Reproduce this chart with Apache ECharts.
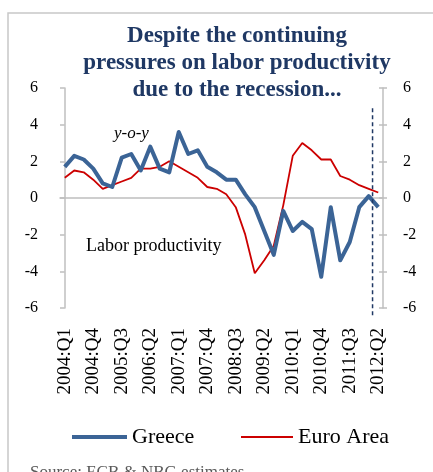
<!DOCTYPE html>
<html>
<head>
<meta charset="utf-8">
<script src="https://cdn.jsdelivr.net/npm/echarts@6/dist/echarts.min.js"></script>
<style>
  html, body { margin: 0; padding: 0; background: #ffffff; }
  #chart { width: 433px; height: 472px; }
</style>
</head>
<body>
<div id="chart"></div>
<script>
// Quarterly labels, 2004:Q1 .. 2012:Q2
const quarters = [
  '2004:Q1','2004:Q2','2004:Q3','2004:Q4',
  '2005:Q1','2005:Q2','2005:Q3','2005:Q4',
  '2006:Q1','2006:Q2','2006:Q3','2006:Q4',
  '2007:Q1','2007:Q2','2007:Q3','2007:Q4',
  '2008:Q1','2008:Q2','2008:Q3','2008:Q4',
  '2009:Q1','2009:Q2','2009:Q3','2009:Q4',
  '2010:Q1','2010:Q2','2010:Q3','2010:Q4',
  '2011:Q1','2011:Q2','2011:Q3','2011:Q4',
  '2012:Q1','2012:Q2'
];

// Labor productivity, y-o-y % change
const greece = [
  1.7, 2.3, 2.1, 1.6, 0.8, 0.6, 2.2, 2.4, 1.5, 2.8, 1.6, 1.4,
  3.6, 2.4, 2.6, 1.7, 1.4, 1.0, 1.0, 0.2, -0.5, -1.8, -3.1, -0.7,
  -1.8, -1.3, -1.7, -4.3, -0.5, -3.4, -2.4, -0.5, 0.1, -0.5
];
const euroArea = [
  1.1, 1.5, 1.4, 1.0, 0.5, 0.7, 0.9, 1.1, 1.6, 1.6, 1.7, 2.0,
  1.7, 1.4, 1.1, 0.6, 0.5, 0.2, -0.5, -2.0, -4.1, -3.4, -2.6, -0.4,
  2.3, 3.0, 2.6, 2.1, 2.1, 1.2, 1.0, 0.7, 0.5, 0.3
];

// Y axis ticks
const yTicks = [-6, -4, -2, 0, 2, 4, 6];

// Position (in quarter index units) of the dashed separator line, and its vertical extent
const separatorAt = 32.4;
const separatorSpan = [4.9, -6.4];

const serif = "'Liberation Serif', 'Times New Roman', serif";
const axisGray = '#bfbfbf';
const greeceColor = '#3b6496';
const euroColor = '#cc0000';

const chart = echarts.init(document.getElementById('chart'), null, { renderer: 'canvas' });

const yBase = {
  type: 'value',
  min: yTicks[0],
  max: yTicks[yTicks.length - 1],
  interval: 2,
  splitLine: { show: false }
};

const legendText = { fontFamily: serif, fontSize: 22, color: '#000' };

chart.setOption({
  animation: false,
  backgroundColor: '#ffffff',
  title: [
    {
      text: 'Despite the continuing\npressures on labor productivity\ndue to the recession...',
      left: 232,
      top: 18,
      textAlign: 'center',
      textStyle: {
        fontFamily: serif,
        fontWeight: 'bold',
        fontSize: 23,
        lineHeight: 27,
        color: '#1f3864'
      }
    },
    {
      text: 'y-o-y',
      left: 109,
      top: 120,
      textStyle: { fontFamily: serif, fontStyle: 'italic', fontWeight: 'normal', fontSize: 17, color: '#000' }
    },
    {
      text: 'Labor productivity',
      left: 81,
      top: 232,
      textStyle: { fontFamily: serif, fontWeight: 'normal', fontSize: 18, color: '#000' }
    },
    {
      text: 'Source: ECB & NBG estimates',
      left: 25,
      top: 459,
      textStyle: { fontFamily: serif, fontWeight: 'normal', fontSize: 17, color: '#595959' }
    }
  ],
  graphic: [
    {
      type: 'rect',
      shape: { x: 8, y: 13, width: 600, height: 600 },
      style: { fill: 'none', stroke: '#c8c8c8', lineWidth: 1.5 },
      silent: true,
      z: 0
    }
  ],
  grid: { left: 60, right: 50, top: 88, bottom: 164, containLabel: false },
  legend: [
    {
      left: 67,
      top: 421,
      itemWidth: 55,
      itemHeight: 4,
      itemGap: 4,
      data: [{ name: 'Greece', icon: 'rect' }],
      textStyle: legendText
    },
    {
      left: 236,
      top: 421,
      itemWidth: 52,
      itemHeight: 2,
      data: [{ name: 'Euro Area', icon: 'rect' }],
      textStyle: legendText
    }
  ],
  xAxis: [
    {
      type: 'category',
      data: quarters,
      boundaryGap: true,
      axisLine: { lineStyle: { color: axisGray, width: 1.5 } },
      axisTick: { show: false },
      axisLabel: {
        interval: 2,
        rotate: 90,
        margin: 20,
        fontFamily: serif,
        fontSize: 19,
        color: '#000'
      },
      splitLine: { show: false }
    },
    {
      type: 'value',
      min: -0.5,
      max: quarters.length - 0.5,
      show: false
    }
  ],
  yAxis: [
    Object.assign({}, yBase, {
      position: 'left',
      axisLine: { show: true, lineStyle: { color: axisGray, width: 1.5 } },
      axisTick: { show: true, inside: false, length: 4, lineStyle: { color: axisGray, width: 1.5 } },
      axisLabel: { margin: 22, fontFamily: serif, fontSize: 16, color: '#000' }
    }),
    Object.assign({}, yBase, {
      position: 'right',
      axisLine: { show: true, lineStyle: { color: axisGray, width: 1.5 } },
      axisTick: { show: true, inside: false, length: 4, lineStyle: { color: axisGray, width: 1.5 } },
      axisLabel: { margin: 20, fontFamily: serif, fontSize: 16, color: '#000' }
    }),
    // inner halves of the crossing tick marks
    Object.assign({}, yBase, {
      position: 'left',
      axisLine: { show: false },
      axisTick: { show: true, inside: true, length: 4, lineStyle: { color: axisGray, width: 1.5 } },
      axisLabel: { show: false }
    }),
    Object.assign({}, yBase, {
      position: 'right',
      axisLine: { show: false },
      axisTick: { show: true, inside: true, length: 4, lineStyle: { color: axisGray, width: 1.5 } },
      axisLabel: { show: false }
    })
  ],
  series: [
    {
      name: 'Euro Area',
      type: 'line',
      data: euroArea,
      xAxisIndex: 0,
      yAxisIndex: 0,
      symbol: 'none',
      lineStyle: { color: euroColor, width: 1.8 },
      itemStyle: { color: euroColor },
      z: 3
    },
    {
      name: 'Greece',
      type: 'line',
      data: greece,
      xAxisIndex: 0,
      yAxisIndex: 0,
      symbol: 'none',
      lineStyle: { color: greeceColor, width: 4, join: 'round' },
      itemStyle: { color: greeceColor },
      z: 4
    },
    {
      name: 'separator',
      type: 'line',
      xAxisIndex: 1,
      yAxisIndex: 0,
      data: separatorSpan.map(v => [separatorAt, v]),
      symbol: 'none',
      clip: false,
      silent: true,
      lineStyle: { color: '#1f3864', width: 1.5, type: [4, 3] },
      z: 5
    }
  ]
});
</script>
</body>
</html>
